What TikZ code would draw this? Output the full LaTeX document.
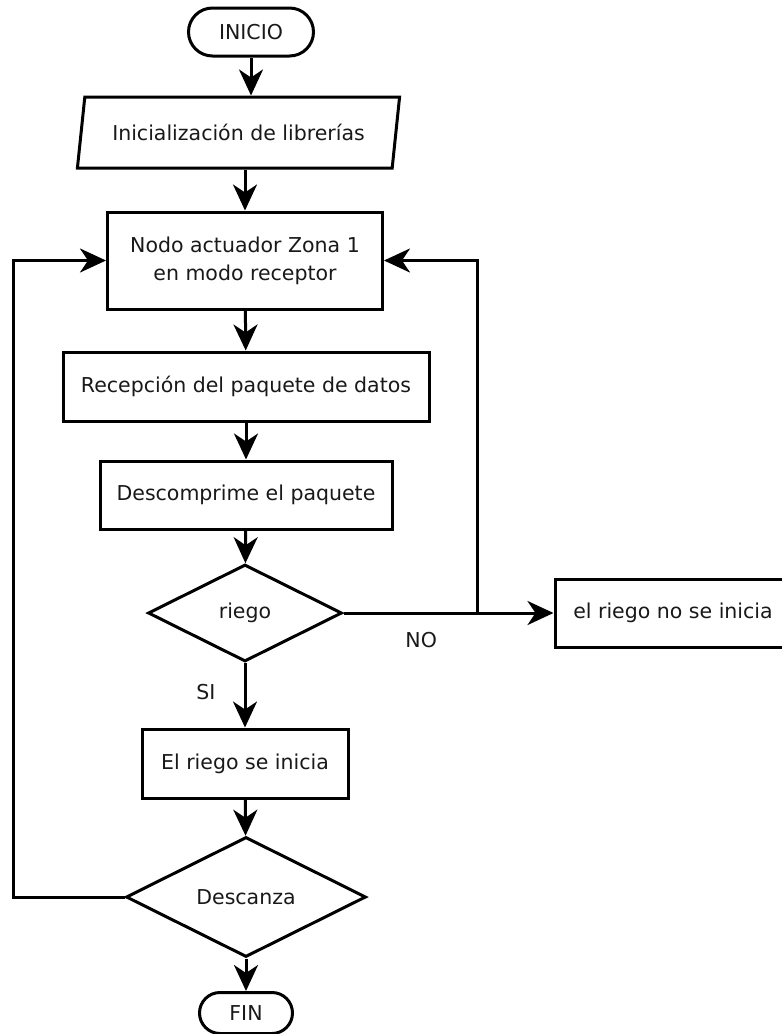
\documentclass[tikz,border=0pt]{standalone}
\usepackage{fontspec}
\setmainfont{DejaVu Sans}
\usetikzlibrary{shapes.geometric,shapes.misc,arrows.meta}

\begin{document}
\begin{tikzpicture}[x=1pt,y=-1pt,
  every node/.style={font=\fontsize{20.5}{28}\selectfont, text=black!90},
  base/.style={draw=black, line width=3pt, fill=white, inner sep=0pt, align=center},
  terminal/.style={base, rounded rectangle},
  iobox/.style={base, trapezium, trapezium left angle=70, trapezium right angle=110, trapezium stretches=true},
  procbox/.style={base, rectangle},
  decision/.style={base, diamond, aspect=2},
  flow/.style={line width=3pt, -{Stealth[length=26pt, width=24pt, inset=8pt]}},
  tag/.style={inner sep=0pt}
]
\useasboundingbox (0,0) rectangle (782,1034);

% process steps
\node[terminal, minimum width=125pt, minimum height=48pt] (inicio) at (251,32) {INICIO};
\node[iobox, minimum width=323pt, minimum height=71pt] (libs) at (238.5,132.5) {Inicialización de librerías};
\node[procbox, minimum width=275pt, minimum height=97pt] (recv) at (245,260.5) {Nodo actuador Zona 1\\ en modo receptor};
\node[procbox, minimum width=366pt, minimum height=69pt] (pkt) at (246,386.5) {Recepción del paquete de datos};
\node[procbox, minimum width=292pt, minimum height=68pt] (unz) at (246,495) {Descomprime el paquete};
\node[decision, minimum width=194pt, minimum height=97pt] (riego) at (245,613) {riego};
\node[procbox, minimum width=236pt, minimum height=68pt] (noriego) at (673,613) {el riego no se inicia};
\node[procbox, minimum width=206pt, minimum height=69pt] (siriego) at (245,763.5) {El riego se inicia};
\node[decision, minimum width=240pt, minimum height=120pt] (rest) at (246,897) {Descanza};
\node[terminal, minimum width=93pt, minimum height=41pt] (fin) at (246,1013) {FIN};

% junction where the NO branch returns to the receiver
\coordinate (jn) at (477,613);

% main flow
\draw[flow] (inicio.south) -- (inicio.south |- libs.north);
\draw[flow] (libs.south -| recv.north) -- (recv.north);
\draw[flow] (recv) -- (pkt);
\draw[flow] (pkt) -- (unz);
\draw[flow] (unz) -- (riego);
\draw[flow] (riego.south) -- node[tag, pos=0.45, left=28pt] {SI} (siriego.north);
\draw[flow] (siriego) -- (rest);
\draw[flow] (rest.south) -- (fin.north);

% NO branch
\draw[flow] (riego.east) -- node[tag, pos=0.37, below=18pt] {NO} (noriego.west);
\draw[flow] (jn) |- (recv.east);

% loop back after resting
\draw[flow] (rest.west) -- ++(-111,0) |- (recv.west);
\end{tikzpicture}
\end{document}
